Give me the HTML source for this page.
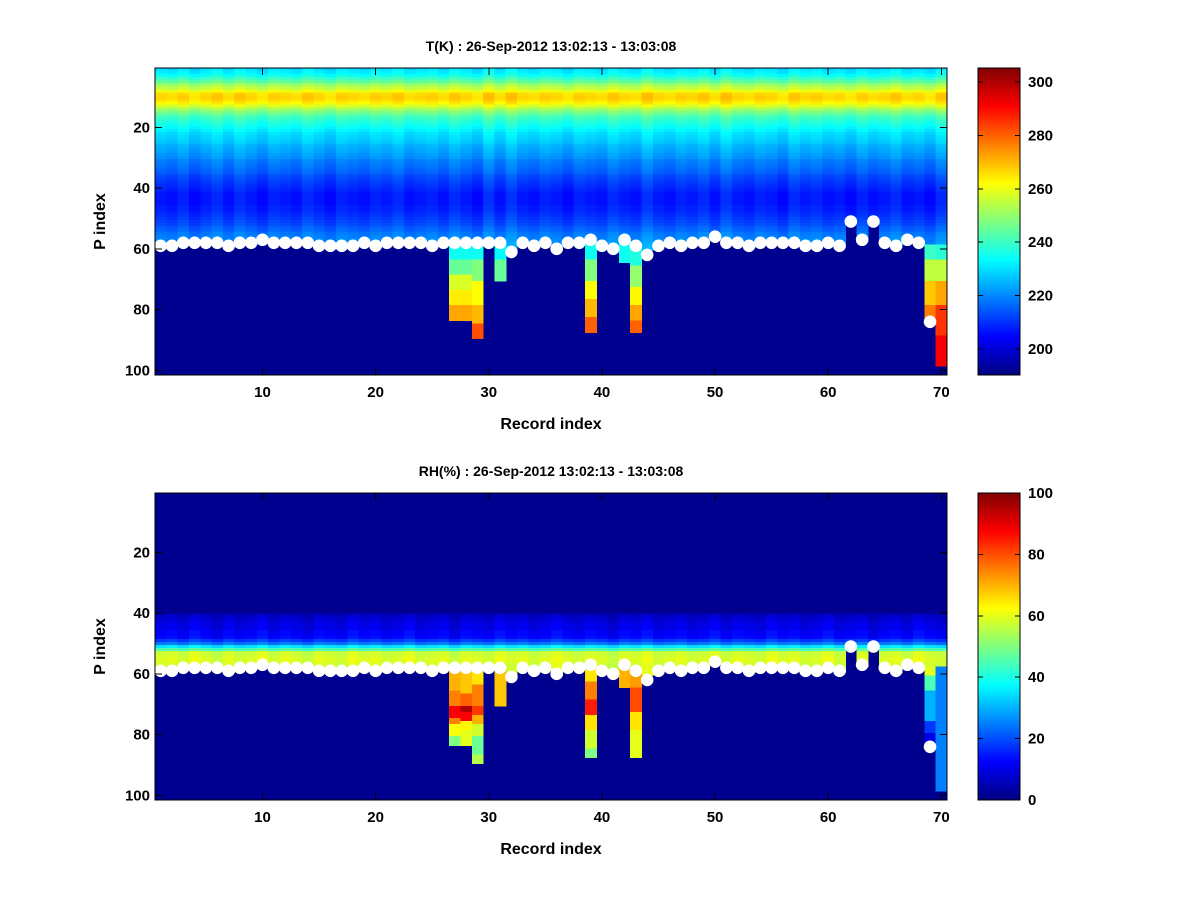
<!DOCTYPE html>
<html><head><meta charset="utf-8"><style>
html,body{margin:0;padding:0;background:#fff;}
svg text{font-family:"Liberation Sans",sans-serif;font-weight:bold;}
</style></head><body>
<svg id="fig" width="1200" height="900" xmlns="http://www.w3.org/2000/svg" shape-rendering="crispEdges">
<defs>
<linearGradient id="jet" x1="0" y1="1" x2="0" y2="0">
<stop offset="0" stop-color="#000080"/><stop offset="0.125" stop-color="#0000ff"/>
<stop offset="0.375" stop-color="#00ffff"/><stop offset="0.625" stop-color="#ffff00"/>
<stop offset="0.875" stop-color="#ff0000"/><stop offset="1" stop-color="#800000"/>
</linearGradient>
</defs>
</svg>
<script>
// ---- data ----
const records = 70;
const levels = 101;
const surface = [59,59,58,58,58,58,59,58,58,57,58,58,58,58,59,59,59,59,58,59,58,58,58,58,59,58,58,58,58,58,58,61,58,59,58,60,58,58,57,59,60,57,59,62,59,58,59,58,58,56,58,58,59,58,58,58,58,59,59,58,59,51,57,51,58,59,57,58,84,98];
// temperature profile for levels 1..60 (K)
const tProfile = [230,232,235,240,244,250,255,260,266,267,266,263,258,252,247,243,240,238,236,234,232,230,229,228,227,225,224,223,222,221,219,218,217,216,215,213,212,211,210,209,208,207,207,207,207,208,208,209,210,211,212,213,215,216,218,219,220,221,222,222];
// per-record temperature offsets (streaks)
const tOffset = [0,-1,1,-2,0,2,-1,2,0,-2,1,0,-1,2,0,-2,1,0,-1,1,0,2,-1,0,1,-1,2,0,-2,3,-1,3,0,-1,1,0,-2,1,0,-1,2,0,-1,3,0,-1,1,0,2,-1,3,0,-1,1,0,-2,2,0,1,-1,0,-2,1,-1,0,2,-1,0,-2,2];
// below-surface temperature runs: [record, fromLevel, toLevel, value]
const tBelow = [
[27,59,63,235],[27,64,68,245],[27,69,73,258],[27,74,78,264],[27,79,83,272],
[28,59,63,235],[28,64,68,245],[28,69,73,258],[28,74,78,264],[28,79,83,272],
[29,59,63,235],[29,64,70,248],[29,71,78,262],[29,79,84,270],[29,85,89,282],
[31,59,63,233],[31,64,70,245],
[39,58,63,235],[39,64,70,248],[39,71,76,262],[39,77,82,270],[39,83,87,280],
[42,58,64,235],
[43,60,65,237],[43,66,72,250],[43,73,78,263],[43,79,83,272],[43,84,87,280],
[69,59,63,240],[69,64,70,255],[69,71,78,268],[69,79,84,277],
[70,59,63,238],[70,64,70,255],[70,71,78,272],[70,79,88,285],[70,89,98,292]];
// RH profile for levels 1..60 (%)
const rhProfile = [0,0,0,0,0,0,0,0,0,0,0,0,0,0,0,0,0,0,0,0,0,0,0,0,0,0,0,0,0,0,0,0,0,0,0,0,0,0,1,3,7,8,9,10,10,12,12,13,18,24,35,45,57,58,59,59,58,58,58,58];
const rhOffset = [0,1,-1,2,0,-2,1,-1,0,2,-1,1,0,-2,1,0,-1,2,0,1,-1,0,2,-1,0,1,-2,1,0,-1,2,0,1,-1,0,2,0,-1,1,0,-2,1,0,2,-1,0,1,-1,0,2,-1,1,0,-1,2,0,1,-1,0,2,-1,0,1,-2,0,1,-1,2,0,-1];
const rhBelow = [
[27,59,65,70],[27,66,70,75],[27,71,74,88],[27,75,76,75],[27,77,80,62],[27,81,83,50],
[28,59,66,68],[28,67,70,78],[28,71,72,95],[28,73,75,88],[28,76,78,63],[28,79,83,60],
[29,59,63,65],[29,64,70,75],[29,71,73,82],[29,74,76,70],[29,77,80,58],[29,81,86,48],[29,87,89,55],
[31,59,70,68],
[39,58,62,65],[39,63,68,75],[39,69,73,85],[39,74,78,65],[39,79,84,58],[39,85,87,50],
[42,58,64,70],
[43,60,64,72],[43,65,72,80],[43,73,78,65],[43,79,87,60],
[69,58,60,60],[69,61,65,45],[69,66,75,30],[69,76,79,18],[69,80,84,10],
[70,58,98,25]];
const xTicks = [10,20,30,40,50,60,70];
const yTicks = [20,40,60,80,100];
const tCbTicks = [200,220,240,260,280,300];
const rhCbTicks = [0,20,40,60,80,100];

// ---- drawing ----
const NS = "http://www.w3.org/2000/svg";
const svg = document.getElementById('fig');
function jet(t){
  t=Math.max(0,Math.min(1,t));
  const r=Math.max(0,Math.min(1,1.5-Math.abs(4*t-3)));
  const g=Math.max(0,Math.min(1,1.5-Math.abs(4*t-2)));
  const b=Math.max(0,Math.min(1,1.5-Math.abs(4*t-1)));
  return `rgb(${Math.round(r*255)},${Math.round(g*255)},${Math.round(b*255)})`;
}
function mk(tag, attrs, parent){
  const e=document.createElementNS(NS,tag);
  for(const k in attrs) e.setAttribute(k,attrs[k]);
  (parent||svg).appendChild(e); return e;
}
function panel(opt){
  const L=155,R=947,T=opt.top,B=opt.top+307;
  const cw=(R-L)/records, ch=(B-T)/levels;
  const xs=r=>L+(r-1)*cw;
  const ys=l=>T+(l-1)*ch;
  const g=mk('g',{});
  
  
  const bg=mk('rect',{x:L,y:T,width:R-L,height:B-T,fill:'#00008f'},g);
  
  
  const col=v=>v<=opt.vmin?'#00008f':jet((v-opt.vmin)/(opt.vmax-opt.vmin));
  for(let r=1;r<=records;r++){
    const s=Math.min(surface[r-1],opt.profile.length);
    for(let l=1;l<=s;l++){
      const p=opt.profile[l-1];
      const v=(p-opt.vmin)>3?p+opt.offset[r-1]:p;
      const c=mk('rect',{x:xs(r),y:ys(l),width:cw+0.6,height:ch+0.6,fill:col(v)},g);
      
      
    }
  }
  opt.below.forEach(b=>{
    const c=mk('rect',{x:xs(b[0]),y:ys(b[1]),width:cw+0.6,height:(b[2]-b[1]+1)*ch+0.6,fill:col(b[3])},g);
    
    
  });
  surface.forEach((s,i)=>{
    if(s>90) return;
    const d=mk('circle',{cx:xs(i+1)+cw/2,cy:ys(s)+ch/2,r:6.3,fill:'#fff','shape-rendering':'auto'},g);
    
    
  });
  const ax=mk('rect',{x:L,y:T,width:R-L,height:B-T,fill:'none',stroke:'#000','stroke-width':1},g);
  
  
  xTicks.forEach(t=>{
    const x=xs(t)+cw/2;
    mk('line',{x1:x,x2:x,y1:B,y2:B-7,stroke:'#000'},g);
    mk('line',{x1:x,x2:x,y1:T,y2:T+7,stroke:'#000'},g);
    const tx=mk('text',{x:x,y:B+22,'text-anchor':'middle','font-size':15},g);
    tx.textContent=t;
    
    
  });
  yTicks.forEach(t=>{
    const y=ys(t)+ch/2;
    mk('line',{x1:L,x2:L+7,y1:y,y2:y,stroke:'#000'},g);
    mk('line',{x1:R,x2:R-7,y1:y,y2:y,stroke:'#000'},g);
    const tx=mk('text',{x:L-5,y:y+5,'text-anchor':'end','font-size':15},g);
    tx.textContent=t;
    
    
  });
  const ti=mk('text',{x:551,y:T-17,'text-anchor':'middle','font-size':14},g);
  ti.textContent=opt.title;
  
  
  const xl=mk('text',{x:551,y:B+54,'text-anchor':'middle','font-size':16},g);
  xl.textContent='Record index';
  
  
  const yl=mk('text',{x:0,y:0,'text-anchor':'middle','font-size':16,transform:`translate(105,${(T+B)/2}) rotate(-90)`},g);
  yl.textContent='P index';
  
  
  const CL=978,CR=1020;
  const cb=mk('rect',{x:CL,y:T,width:CR-CL,height:B-T,fill:'url(#jet)',stroke:'#000'},g);
  
  
  const cy=v=>B-(v-opt.vmin)/(opt.vmax-opt.vmin)*(B-T);
  opt.cbTicks.forEach(t=>{
    const y=cy(t);
    mk('line',{x1:CL,x2:CL+5,y1:y,y2:y,stroke:'#000'},g);
    mk('line',{x1:CR,x2:CR-5,y1:y,y2:y,stroke:'#000'},g);
    const tx=mk('text',{x:CR+8,y:y+5,'font-size':15},g);
    tx.textContent=t;
    
    
  });
}
panel({name:'temperature',top:68,title:'T(K) : 26-Sep-2012 13:02:13 - 13:03:08',profile:tProfile,offset:tOffset,below:tBelow,vmin:190.3,vmax:305.2,cbTicks:tCbTicks});
panel({name:'humidity',top:493,title:'RH(%) : 26-Sep-2012 13:02:13 - 13:03:08',profile:rhProfile,offset:rhOffset,below:rhBelow,vmin:0,vmax:100,cbTicks:rhCbTicks});
</script>
</body></html>
